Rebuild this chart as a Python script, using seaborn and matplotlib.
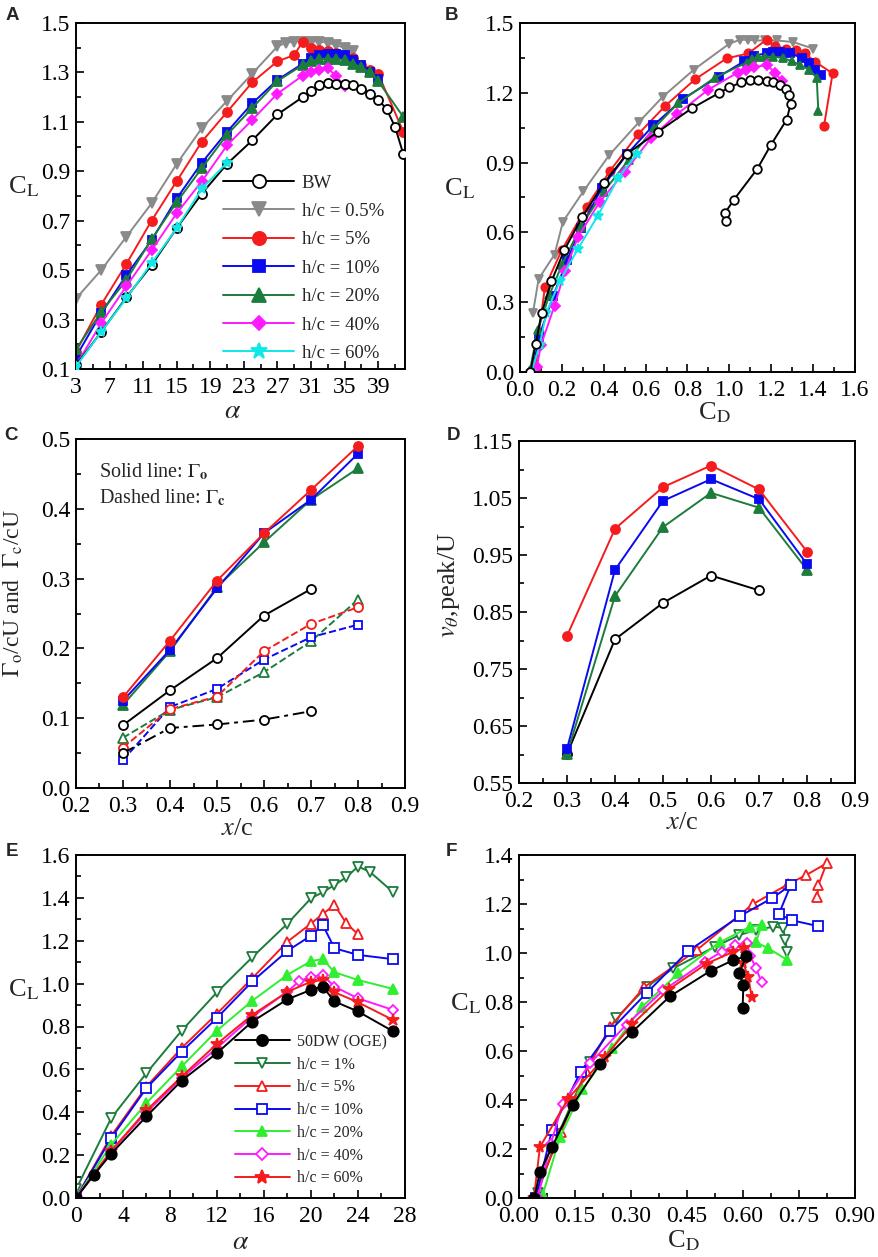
import matplotlib
matplotlib.use("Agg")
import matplotlib.pyplot as plt
import seaborn as sns
from matplotlib.lines import Line2D
from matplotlib.ticker import MultipleLocator, FormatStrFormatter

# ---------------- Panel A: CL vs alpha ----------------
A_BW_ALPHA = [3, 6, 9, 12, 15, 18, 21, 24, 27, 30, 31, 32, 33, 34, 35, 36, 37, 38, 39, 40, 41, 42]
A_BW_CL = [0.115, 0.25, 0.39, 0.52, 0.67, 0.81, 0.93, 1.025, 1.13, 1.20, 1.223, 1.248, 1.257, 1.254,
           1.254, 1.248, 1.234, 1.214, 1.19, 1.152, 1.081, 0.97]
A_H05_ALPHA = [3, 6, 9, 12, 15, 18, 21, 24, 27, 28, 29, 30, 31, 32, 33, 34, 35, 36]
A_H05_CL = [0.385, 0.50, 0.635, 0.77, 0.93, 1.075, 1.185, 1.295, 1.405, 1.42, 1.425, 1.425, 1.425,
            1.425, 1.42, 1.41, 1.40, 1.385]
A_H5_ALPHA = [3, 6, 9, 12, 15, 18, 21, 24, 27, 29, 30, 31, 32, 33, 34, 35, 36, 37, 38, 39, 42]
A_H5_CL = [0.17, 0.36, 0.525, 0.70, 0.86, 1.02, 1.14, 1.26, 1.345, 1.37, 1.425, 1.40, 1.39, 1.385,
           1.38, 1.37, 1.36, 1.33, 1.31, 1.295, 1.06]
A_H10_ALPHA = [3, 6, 9, 12, 15, 18, 21, 24, 27, 30, 31, 32, 33, 34, 35, 36, 37, 38, 39]
A_H10_CL = [0.15, 0.325, 0.48, 0.62, 0.79, 0.935, 1.06, 1.175, 1.27, 1.335, 1.36, 1.37, 1.375, 1.375,
            1.37, 1.35, 1.33, 1.30, 1.275]
A_H20_ALPHA = [3, 6, 9, 12, 15, 18, 21, 24, 27, 30, 31, 32, 33, 34, 35, 36, 37, 38, 39, 42]
A_H20_CL = [0.18, 0.33, 0.46, 0.625, 0.775, 0.913, 1.048, 1.156, 1.265, 1.33, 1.345, 1.355, 1.355,
            1.355, 1.35, 1.335, 1.32, 1.30, 1.265, 1.12]
A_H40_ALPHA = [3, 6, 9, 12, 15, 18, 21, 24, 27, 30, 31, 32, 33, 34, 35]
A_H40_CL = [0.115, 0.285, 0.435, 0.58, 0.73, 0.86, 1.005, 1.108, 1.214, 1.287, 1.30, 1.31, 1.317, 1.285, 1.245]
A_H60_ALPHA = [3, 6, 9, 12, 15, 18, 21]
A_H60_CL = [0.11, 0.25, 0.386, 0.528, 0.67, 0.83, 0.935]

# ---------------- Panel B: CL vs CD ----------------
B_BW_CD = [0.05, 0.075, 0.103, 0.15, 0.212, 0.298, 0.403, 0.51, 0.66, 0.82, 0.952, 1.0, 1.056, 1.099,
           1.135, 1.178, 1.21, 1.242, 1.269, 1.285, 1.293, 1.274, 1.197, 1.134, 1.022, 0.979, 0.984]
B_BW_CL = [0.0, 0.12, 0.253, 0.389, 0.525, 0.668, 0.814, 0.937, 1.033, 1.133, 1.2, 1.223, 1.245, 1.256,
           1.254, 1.252, 1.247, 1.235, 1.217, 1.192, 1.154, 1.085, 0.974, 0.874, 0.741, 0.683, 0.648]
B_H05_CD = [0.062, 0.089, 0.165, 0.205, 0.303, 0.427, 0.57, 0.682, 0.831, 0.998, 1.05, 1.09, 1.122,
            1.17, 1.226, 1.305, 1.40]
B_H05_CL = [0.255, 0.40, 0.505, 0.646, 0.777, 0.933, 1.076, 1.183, 1.30, 1.41, 1.428, 1.428, 1.425,
            1.425, 1.425, 1.418, 1.39]
B_H5_CD = [0.075, 0.09, 0.119, 0.20, 0.318, 0.43, 0.565, 0.693, 0.836, 0.987, 1.09, 1.178, 1.22, 1.27,
           1.32, 1.36, 1.409, 1.493, 1.452]
B_H5_CL = [0.0, 0.17, 0.364, 0.525, 0.71, 0.865, 1.023, 1.143, 1.258, 1.348, 1.369, 1.429, 1.40, 1.39,
           1.385, 1.37, 1.334, 1.283, 1.057]
B_H10_CD = [0.06, 0.09, 0.158, 0.225, 0.29, 0.39, 0.51, 0.637, 0.78, 0.95, 1.07, 1.12, 1.178, 1.21,
            1.242, 1.29, 1.345, 1.38, 1.41, 1.44]
B_H10_CL = [0.0, 0.15, 0.325, 0.48, 0.62, 0.79, 0.935, 1.06, 1.175, 1.27, 1.335, 1.36, 1.37, 1.375,
            1.375, 1.37, 1.35, 1.33, 1.30, 1.275]
B_H20_CD = [0.048, 0.085, 0.14, 0.20, 0.29, 0.40, 0.52, 0.64, 0.756, 0.93, 1.083, 1.11, 1.138, 1.17,
            1.21, 1.257, 1.30, 1.337, 1.38, 1.417, 1.425]
B_H20_CL = [0.01, 0.18, 0.33, 0.46, 0.625, 0.775, 0.913, 1.048, 1.156, 1.265, 1.33, 1.345, 1.355,
            1.355, 1.355, 1.35, 1.335, 1.32, 1.30, 1.265, 1.12]
B_H40_CD = [0.08, 0.10, 0.165, 0.215, 0.277, 0.38, 0.50, 0.625, 0.75, 0.9, 1.04, 1.08, 1.12, 1.178, 1.22, 1.25]
B_H40_CL = [0.02, 0.115, 0.285, 0.435, 0.58, 0.73, 0.86, 1.005, 1.108, 1.214, 1.287, 1.30, 1.31, 1.32, 1.285, 1.25]
B_H60_CD = [0.054, 0.094, 0.126, 0.19, 0.277, 0.372, 0.468, 0.557]
B_H60_CL = [0.0, 0.115, 0.255, 0.39, 0.53, 0.672, 0.832, 0.937]

# ---------------- Panel C: circulation ----------------
XC = [0.3, 0.4, 0.5, 0.6, 0.7, 0.8]
XC_BW = [0.3, 0.4, 0.5, 0.6, 0.7]
GO_H5 = [0.13, 0.211, 0.297, 0.365, 0.427, 0.49]
GO_H10 = [0.125, 0.198, 0.286, 0.365, 0.413, 0.479]
GO_H20 = [0.119, 0.196, 0.288, 0.352, 0.413, 0.458]
GO_BW = [0.09, 0.14, 0.186, 0.247, 0.285]
GC_H5 = [0.058, 0.113, 0.131, 0.196, 0.235, 0.259]
GC_H10 = [0.04, 0.116, 0.142, 0.184, 0.216, 0.234]
GC_H20 = [0.072, 0.112, 0.13, 0.166, 0.21, 0.27]
GC_BW = [0.05, 0.086, 0.091, 0.098, 0.11]

# ---------------- Panel D: peak tangential velocity ----------------
VP_H5 = [0.808, 0.996, 1.069, 1.107, 1.065, 0.956]
VP_H10 = [0.61, 0.924, 1.045, 1.083, 1.048, 0.934]
VP_H20 = [0.601, 0.878, 0.999, 1.059, 1.033, 0.924]
VP_BW = [0.601, 0.802, 0.866, 0.914, 0.888]

# ---------------- Panel E: CL vs alpha (50DW) ----------------
E_OGE_ALPHA = [0, 1.5, 3, 6, 9, 12, 15, 18, 20, 21, 22, 24, 27]
E_OGE_CL = [0.0, 0.106, 0.207, 0.381, 0.548, 0.676, 0.823, 0.927, 0.971, 0.986, 0.917, 0.87, 0.777]
E_H1_ALPHA = [0, 3, 6, 9, 12, 15, 18, 20, 21, 22, 23, 24, 25, 27]
E_H1_CL = [0.04, 0.373, 0.583, 0.781, 0.96, 1.123, 1.28, 1.398, 1.426, 1.46, 1.496, 1.546, 1.522, 1.426]
E_H5_ALPHA = [0, 3, 6, 9, 12, 15, 18, 20, 21, 22, 23, 24]
E_H5_CL = [0.0, 0.29, 0.52, 0.70, 0.86, 1.025, 1.196, 1.28, 1.325, 1.367, 1.282, 1.23]
E_H10_ALPHA = [0, 3, 6, 9, 12, 15, 18, 20, 21, 22, 24, 27]
E_H10_CL = [0.0, 0.28, 0.513, 0.683, 0.84, 1.01, 1.153, 1.224, 1.274, 1.165, 1.134, 1.114]
E_H20_ALPHA = [0, 3, 6, 9, 12, 15, 18, 20, 21, 22, 24, 27]
E_H20_CL = [0.0, 0.249, 0.443, 0.614, 0.781, 0.92, 1.041, 1.105, 1.115, 1.053, 1.017, 0.975]
E_H40_ALPHA = [0, 3, 6, 9, 12, 15, 18, 19, 20, 21, 22, 24, 27]
E_H40_CL = [0.0, 0.22, 0.40, 0.56, 0.70, 0.845, 0.963, 1.012, 1.032, 1.04, 0.986, 0.931, 0.877]
E_H60_ALPHA = [0, 3, 6, 9, 12, 15, 18, 20, 21, 22, 24, 27]
E_H60_CL = [0.0, 0.22, 0.409, 0.567, 0.719, 0.854, 0.962, 1.009, 1.017, 0.96, 0.913, 0.83]

# ---------------- Panel F: CL vs CD (50DW) ----------------
F_OGE_CD = [0.041, 0.056, 0.088, 0.144, 0.217, 0.302, 0.404, 0.513, 0.574, 0.608, 0.59, 0.601, 0.599]
F_OGE_CL = [0.0, 0.106, 0.207, 0.381, 0.548, 0.676, 0.823, 0.927, 0.971, 0.986, 0.917, 0.87, 0.777]
F_H1_CD = [0.05, 0.105, 0.19, 0.26, 0.342, 0.413, 0.525, 0.59, 0.635, 0.681, 0.708, 0.713, 0.719]
F_H1_CL = [0.02, 0.26, 0.555, 0.733, 0.862, 0.937, 1.026, 1.073, 1.094, 1.107, 1.103, 1.053, 1.005]
F_H5_CD = [0.04, 0.113, 0.18, 0.245, 0.335, 0.476, 0.626, 0.72, 0.769, 0.824, 0.802, 0.799]
F_H5_CL = [0.0, 0.27, 0.52, 0.70, 0.86, 1.012, 1.199, 1.28, 1.318, 1.366, 1.278, 1.23]
F_H10_CD = [0.045, 0.088, 0.165, 0.244, 0.342, 0.454, 0.592, 0.677, 0.728, 0.696, 0.73, 0.80]
F_H10_CL = [0.0, 0.276, 0.515, 0.682, 0.837, 1.009, 1.151, 1.223, 1.277, 1.159, 1.134, 1.11]
F_H20_CD = [0.063, 0.11, 0.17, 0.25, 0.33, 0.427, 0.538, 0.619, 0.65, 0.635, 0.668, 0.719]
F_H20_CL = [0.011, 0.249, 0.443, 0.614, 0.781, 0.917, 1.044, 1.107, 1.114, 1.044, 1.019, 0.971]
F_H40_CD = [0.05, 0.085, 0.117, 0.19, 0.288, 0.387, 0.498, 0.543, 0.579, 0.61, 0.62, 0.635, 0.65]
F_H40_CL = [0.0, 0.22, 0.385, 0.549, 0.708, 0.848, 0.964, 1.005, 1.033, 1.04, 0.986, 0.937, 0.88]
F_H60_CD = [0.04, 0.056, 0.132, 0.23, 0.304, 0.403, 0.503, 0.574, 0.603, 0.6, 0.614, 0.623]
F_H60_CL = [0.0, 0.208, 0.406, 0.576, 0.71, 0.853, 0.957, 1.005, 1.02, 0.96, 0.903, 0.822]

LEGEND_A = ["BW", "h/c = 0.5%", "h/c = 5%", "h/c = 10%", "h/c = 20%", "h/c = 40%", "h/c = 60%"]
LEGEND_E = ["50DW (OGE)", "h/c = 1%", "h/c = 5%", "h/c = 10%", "h/c = 20%", "h/c = 40%", "h/c = 60%"]

GRAY = "#8a8a8a"
RED = "#f41c1c"
BLUE = "#0a0af0"
DGREEN = "#1c7c3c"
MAGENTA = "#ff1aff"
CYAN = "#10e8e8"
LIME = "#30ee30"
BLACK = "black"

sns.set_style("ticks")
plt.rcParams["font.family"] = ["Liberation Serif", "DejaVu Serif"]
plt.rcParams["mathtext.fontset"] = "stix"
plt.rcParams["axes.edgecolor"] = "black"
plt.rcParams["axes.linewidth"] = 1.4

W, H = 879, 1257
fig = plt.figure(figsize=(W / 100, H / 100), dpi=100)


def rect(l, t, r, b):
    return [l / W, 1 - b / H, (r - l) / W, (b - t) / H]


def draw(ax, x, y, color, marker, ms, filled=True, ls="-", lw=1.4, z=2):
    sns.lineplot(x=x, y=y, ax=ax, sort=False, estimator=None, color=color,
                 marker=marker, markersize=ms,
                 markerfacecolor=color if filled else "white",
                 markeredgecolor=color, markeredgewidth=1.3,
                 linewidth=lw, linestyle=ls, zorder=z)


def style(ax, xlim, ylim, xmaj, ymaj, xfmt, yfmt, xoff=0.0, yoff=0.0):
    ax.set_xlim(*xlim)
    ax.set_ylim(*ylim)
    ax.xaxis.set_major_locator(MultipleLocator(xmaj, offset=xoff))
    ax.xaxis.set_minor_locator(MultipleLocator(xmaj / 2, offset=xoff))
    ax.yaxis.set_major_locator(MultipleLocator(ymaj, offset=yoff))
    ax.yaxis.set_minor_locator(MultipleLocator(ymaj / 2, offset=yoff))
    ax.xaxis.set_major_formatter(FormatStrFormatter(xfmt))
    ax.yaxis.set_major_formatter(FormatStrFormatter(yfmt))
    ax.tick_params(which="both", direction="in", top=False, right=False,
                   labelsize=17, width=1.2, colors="black")
    ax.tick_params(which="major", length=6)
    ax.tick_params(which="minor", length=3.5)
    ax.tick_params(axis="x", pad=6)
    ax.tick_params(axis="y", pad=4)
    for s in ax.spines.values():
        s.set_visible(True)
        s.set_linewidth(1.4)
        s.set_color("black")


def handle(color, marker, ms, filled=True):
    return Line2D([], [], color=color, lw=1.4, marker=marker, markersize=ms,
                  markerfacecolor=color if filled else "white",
                  markeredgecolor=color, markeredgewidth=1.3)


CL_LABEL = r"C$_\mathrm{L}$"
CD_LABEL = r"C$_\mathrm{D}$"

# ---------- A ----------
axA = fig.add_axes(rect(76, 23, 405, 369))
draw(axA, A_H05_ALPHA, A_H05_CL, GRAY, "v", 6.5)
draw(axA, A_H5_ALPHA, A_H5_CL, RED, "o", 6.5)
draw(axA, A_H10_ALPHA, A_H10_CL, BLUE, "s", 6.2)
draw(axA, A_H20_ALPHA, A_H20_CL, DGREEN, "^", 6.5)
draw(axA, A_H40_ALPHA, A_H40_CL, MAGENTA, "D", 5)
draw(axA, A_BW_ALPHA, A_BW_CL, BLACK, "o", 6.5, filled=False, z=3)
draw(axA, A_H60_ALPHA, A_H60_CL, CYAN, "*", 8, z=4)
style(axA, (3, 42.2), (0.1, 1.5), 4, 0.2, "%d", "%.1f", xoff=3, yoff=0.1)
axA.set_xlabel(r"$\alpha$", fontsize=20)
axA.set_ylabel(CL_LABEL, fontsize=19, rotation=0)
axA.xaxis.set_label_coords(0.477, -0.088)
axA.yaxis.set_label_coords(-0.16, 0.49)
hA = [handle(BLACK, "o", 9.5, False), handle(GRAY, "v", 9.5), handle(RED, "o", 9.5),
      handle(BLUE, "s", 9), handle(DGREEN, "^", 9.5), handle(MAGENTA, "D", 7.5), handle(CYAN, "*", 12)]
axA.legend(hA, LEGEND_A, loc="upper left", bbox_to_anchor=(0.447, 0.562), frameon=False,
           fontsize=13.5, handlelength=3.8, handletextpad=0.4, labelspacing=0.6,
           borderpad=0, borderaxespad=0)

# ---------- B ----------
axB = fig.add_axes(rect(520, 23, 855, 372))
draw(axB, B_H05_CD, B_H05_CL, GRAY, "v", 6)
draw(axB, B_H5_CD, B_H5_CL, RED, "o", 6)
draw(axB, B_H10_CD, B_H10_CL, BLUE, "s", 5.8)
draw(axB, B_H20_CD, B_H20_CL, DGREEN, "^", 6)
draw(axB, B_H40_CD, B_H40_CL, MAGENTA, "D", 4.8)
draw(axB, B_H60_CD, B_H60_CL, CYAN, "*", 7.5)
draw(axB, B_BW_CD, B_BW_CL, BLACK, "o", 6.2, filled=False, z=4)
style(axB, (0, 1.6), (0, 1.5), 0.2, 0.3, "%.1f", "%.1f")
axB.set_xlabel(CD_LABEL, fontsize=19)
axB.set_ylabel(CL_LABEL, fontsize=19, rotation=0)
axB.xaxis.set_label_coords(0.58, -0.082)
axB.yaxis.set_label_coords(-0.18, 0.49)

# ---------- C ----------
axC = fig.add_axes(rect(76, 439, 405, 788))
draw(axC, XC, GO_H20, DGREEN, "^", 6.5)
draw(axC, XC, GO_H10, BLUE, "s", 6.2)
draw(axC, XC, GO_H5, RED, "o", 6.5)
draw(axC, XC_BW, GO_BW, BLACK, "o", 6.5, filled=False)
draw(axC, XC, GC_H20, DGREEN, "^", 6.5, filled=False, ls="--")
draw(axC, XC, GC_H10, BLUE, "s", 6.2, filled=False, ls="--")
draw(axC, XC, GC_H5, RED, "o", 6.5, filled=False, ls="--")
draw(axC, XC_BW, GC_BW, BLACK, "o", 6.5, filled=False, ls=(0, (6, 2.5, 2, 2.5)))
style(axC, (0.2, 0.9), (0, 0.5), 0.1, 0.1, "%.1f", "%.1f")
axC.set_xlabel(r"$x$/c", fontsize=19)
axC.set_ylabel(r"$\Gamma_\mathrm{o}$/cU and  $\Gamma_\mathrm{c}$/cU", fontsize=17)
axC.xaxis.set_label_coords(0.49, -0.085)
axC.yaxis.set_label_coords(-0.155, 0.56)
axC.text(0.07, 0.905, r"Solid line: $\Gamma_\mathbf{o}$", transform=axC.transAxes,
         fontsize=14.5, va="center", ha="left")
axC.text(0.07, 0.83, r"Dashed line: $\Gamma_\mathbf{c}$", transform=axC.transAxes,
         fontsize=14.5, va="center", ha="left")

# ---------- D ----------
axD = fig.add_axes(rect(519, 441, 855, 783))
draw(axD, XC_BW, VP_BW, BLACK, "o", 6.5, filled=False)
draw(axD, XC, VP_H20, DGREEN, "^", 6.5)
draw(axD, XC, VP_H10, BLUE, "s", 6.2)
draw(axD, XC, VP_H5, RED, "o", 6.5)
style(axD, (0.2, 0.9), (0.55, 1.15), 0.1, 0.1, "%.1f", "%.2f", yoff=0.05)
axD.set_xlabel(r"$x$/c", fontsize=19)
axD.set_ylabel(r"$v_{\theta}$,peak/U", fontsize=19)
axD.xaxis.set_label_coords(0.485, -0.085)
axD.yaxis.set_label_coords(-0.17, 0.58)

# ---------- E ----------
axE = fig.add_axes(rect(76, 855, 405, 1198))
draw(axE, E_H1_ALPHA, E_H1_CL, DGREEN, "v", 7.5, filled=False)
draw(axE, E_H5_ALPHA, E_H5_CL, RED, "^", 7.5, filled=False)
draw(axE, E_H10_ALPHA, E_H10_CL, BLUE, "s", 7.2, filled=False)
draw(axE, E_H20_ALPHA, E_H20_CL, LIME, "^", 7.5)
draw(axE, E_H40_ALPHA, E_H40_CL, MAGENTA, "D", 5.5, filled=False)
draw(axE, E_H60_ALPHA, E_H60_CL, RED, "*", 9)
draw(axE, E_OGE_ALPHA, E_OGE_CL, BLACK, "o", 7.5)
style(axE, (0, 28), (0, 1.6), 4, 0.2, "%d", "%.1f")
axE.set_xlabel(r"$\alpha$", fontsize=20)
axE.set_ylabel(CL_LABEL, fontsize=19, rotation=0)
axE.xaxis.set_label_coords(0.5, -0.092)
axE.yaxis.set_label_coords(-0.16, 0.57)
hE = [handle(BLACK, "o", 8), handle(DGREEN, "v", 7.5, False), handle(RED, "^", 7.5, False),
      handle(BLUE, "s", 7.2, False), handle(LIME, "^", 7.5), handle(MAGENTA, "D", 5.8, False),
      handle(RED, "*", 10)]
axE.legend(hE, LEGEND_E, loc="upper left", bbox_to_anchor=(0.483, 0.478), frameon=False,
           fontsize=11.5, handlelength=3.45, handletextpad=0.45, labelspacing=0.42,
           borderpad=0, borderaxespad=0)

# ---------- F ----------
axF = fig.add_axes(rect(519, 855, 855, 1198))
draw(axF, F_H1_CD, F_H1_CL, DGREEN, "v", 7, filled=False)
draw(axF, F_H5_CD, F_H5_CL, RED, "^", 7, filled=False)
draw(axF, F_H10_CD, F_H10_CL, BLUE, "s", 7, filled=False)
draw(axF, F_H20_CD, F_H20_CL, LIME, "^", 7)
draw(axF, F_H40_CD, F_H40_CL, MAGENTA, "D", 5.2, filled=False)
draw(axF, F_H60_CD, F_H60_CL, RED, "*", 8.5)
draw(axF, F_OGE_CD, F_OGE_CL, BLACK, "o", 7.5, z=3)
style(axF, (0, 0.9), (0, 1.4), 0.15, 0.2, "%.2f", "%.1f")
axF.set_xlabel(CD_LABEL, fontsize=19)
axF.set_ylabel(CL_LABEL, fontsize=19, rotation=0)
axF.xaxis.set_label_coords(0.49, -0.09)
axF.yaxis.set_label_coords(-0.16, 0.53)

# panel letters
for letter, px, py in [("A", 6, 16), ("B", 445, 16), ("C", 4, 436), ("D", 447, 436),
                       ("E", 6, 851), ("F", 446, 851)]:
    fig.text(px / W, 1 - py / H, letter, fontsize=13.5, fontweight="bold",
             family=["Liberation Sans", "DejaVu Sans"], va="center", ha="left")

fig.savefig("out.png", dpi=100)
